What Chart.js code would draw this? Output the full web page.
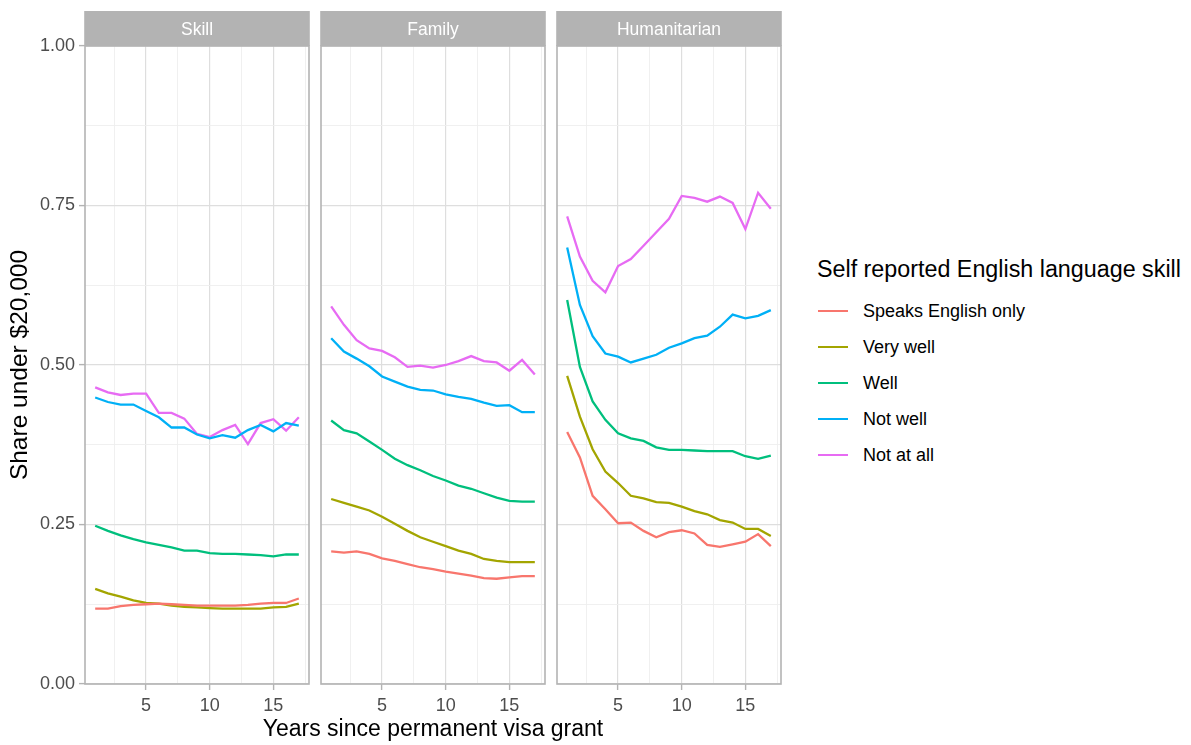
<!DOCTYPE html>
<html>
<head>
<meta charset="utf-8">
<script src="https://cdn.jsdelivr.net/npm/chart.js@4.4.0/dist/chart.umd.min.js"></script>
<style>
  html, body { margin: 0; padding: 0; background: #ffffff; }
  body { width: 1191px; height: 745px; position: relative; overflow: hidden;
         font-family: "Liberation Sans", Arial, sans-serif; }
  canvas { position: absolute; top: 0; }
  #legend { position: absolute; left: 817px; top: 0; width: 374px; height: 745px; }
  #legend .title { position: absolute; left: 0; top: 256px; font-size: 23.3px; color: #000; white-space: nowrap; }
  #legend .item { position: absolute; left: 1px; height: 20px; }
  #legend .swatch { position: absolute; left: 0; top: 9px; width: 30px; height: 2px; }
  #legend .label { position: absolute; left: 45px; top: 0; font-size: 18px; line-height: 20px; color: #000; white-space: nowrap; }
</style>
</head>
<body>
<canvas id="panel0" width="311" height="745"></canvas>
<canvas id="panel1" width="484" height="745"></canvas>
<canvas id="panel2" width="232" height="745"></canvas>
<div id="legend"></div>
<script>
// Years since the permanent visa was granted
const years = [1, 2, 3, 4, 5, 6, 7, 8, 9, 10, 11, 12, 13, 14, 15, 16, 17];

// Visa streams (one panel each)
const streams = ['Skill', 'Family', 'Humanitarian'];

// Self reported English language skill groups and their colours
const skillGroups = ['Speaks English only', 'Very well', 'Well', 'Not well', 'Not at all'];
const groupColours = ['#F8766D', '#A3A500', '#00BF7D', '#00B0F6', '#E76BF3'];

// Axis ticks and titles
const xTicks = [5, 10, 15];
const yTicks = [0, 0.25, 0.5, 0.75, 1];
const yTickLabels = ['0.00', '0.25', '0.50', '0.75', '1.00'];
const xTitle = 'Years since permanent visa grant';
const yTitle = 'Share under $20,000';

// Share of people with income under $20,000 — Skill stream
const skillEnglishOnly = [0.118, 0.118, 0.122, 0.124, 0.125, 0.126, 0.125, 0.124, 0.123, 0.123, 0.123, 0.123, 0.124, 0.126, 0.127, 0.127, 0.134];
const skillVeryWell    = [0.149, 0.142, 0.137, 0.131, 0.127, 0.126, 0.123, 0.121, 0.120, 0.119, 0.118, 0.118, 0.118, 0.118, 0.120, 0.121, 0.126];
const skillWell        = [0.248, 0.240, 0.233, 0.227, 0.222, 0.218, 0.214, 0.209, 0.209, 0.205, 0.204, 0.204, 0.203, 0.202, 0.200, 0.203, 0.203];
const skillNotWell     = [0.449, 0.442, 0.438, 0.438, 0.428, 0.418, 0.402, 0.402, 0.391, 0.385, 0.390, 0.386, 0.398, 0.406, 0.396, 0.409, 0.405];
const skillNotAtAll    = [0.465, 0.457, 0.453, 0.455, 0.455, 0.425, 0.425, 0.416, 0.392, 0.387, 0.398, 0.406, 0.376, 0.409, 0.415, 0.397, 0.418];

// Family stream
const familyEnglishOnly = [0.208, 0.206, 0.208, 0.204, 0.197, 0.193, 0.188, 0.183, 0.180, 0.176, 0.173, 0.170, 0.166, 0.165, 0.167, 0.169, 0.169];
const familyVeryWell    = [0.290, 0.284, 0.278, 0.272, 0.262, 0.251, 0.240, 0.230, 0.223, 0.216, 0.209, 0.204, 0.196, 0.193, 0.191, 0.191, 0.191];
const familyWell        = [0.413, 0.398, 0.393, 0.380, 0.367, 0.353, 0.343, 0.335, 0.326, 0.319, 0.311, 0.306, 0.299, 0.292, 0.287, 0.286, 0.286];
const familyNotWell     = [0.542, 0.521, 0.510, 0.498, 0.482, 0.474, 0.466, 0.461, 0.460, 0.454, 0.450, 0.447, 0.441, 0.436, 0.437, 0.426, 0.426];
const familyNotAtAll    = [0.592, 0.563, 0.539, 0.526, 0.522, 0.512, 0.497, 0.499, 0.496, 0.500, 0.506, 0.514, 0.506, 0.504, 0.491, 0.508, 0.485];

// Humanitarian stream
const humanEnglishOnly = [0.395, 0.355, 0.295, 0.274, 0.252, 0.253, 0.240, 0.230, 0.238, 0.241, 0.236, 0.218, 0.215, 0.219, 0.223, 0.235, 0.216];
const humanVeryWell    = [0.483, 0.419, 0.368, 0.333, 0.315, 0.295, 0.291, 0.285, 0.284, 0.278, 0.271, 0.266, 0.257, 0.253, 0.243, 0.243, 0.232];
const humanWell        = [0.602, 0.497, 0.443, 0.414, 0.393, 0.385, 0.381, 0.371, 0.367, 0.367, 0.366, 0.365, 0.365, 0.365, 0.357, 0.353, 0.358];
const humanNotWell     = [0.684, 0.594, 0.545, 0.518, 0.513, 0.504, 0.510, 0.516, 0.527, 0.534, 0.542, 0.546, 0.560, 0.579, 0.573, 0.577, 0.586];
const humanNotAtAll    = [0.733, 0.670, 0.632, 0.614, 0.655, 0.666, 0.687, 0.708, 0.729, 0.765, 0.762, 0.756, 0.764, 0.754, 0.713, 0.770, 0.745];

const seriesByStream = [
  [skillEnglishOnly, skillVeryWell, skillWell, skillNotWell, skillNotAtAll],
  [familyEnglishOnly, familyVeryWell, familyWell, familyNotWell, familyNotAtAll],
  [humanEnglishOnly, humanVeryWell, humanWell, humanNotWell, humanNotAtAll]
];

// ---- look and layout ----
const FONT = '"Liberation Sans", Arial, sans-serif';
const GRID_MAJOR = '#DEDEDE';
const GRID_MINOR = '#EEEEEE';
const FRAME = '#B3B3B3';
const TICK_TEXT = '#4D4D4D';
const X_MIN = 0.2, X_MAX = 17.8;
const PLOT_TOP = 46;
const X_AXIS_HEIGHT = 61;
const STRIP_HEIGHT = 35;

// canvas placement and the padding that puts each plot area in its slot
const placement = [
  { left: 0,   padLeft: 0,   padRight: 2,   yAxisWidth: 85 },
  { left: 191, padLeft: 130, padRight: 130, yAxisWidth: 0 },
  { left: 553, padLeft: 4,   padRight: 4,   yAxisWidth: 0 }
];

const isMajor = (v, list) => list.some(t => Math.abs(t - v) < 1e-9);
const minorBetween = list => list.slice(0, -1).map((v, i) => (v + list[i + 1]) / 2);

// x grid: majors plus midpoints, including the half-steps at both ends that fall in range
const xStep = xTicks[1] - xTicks[0];
const xGridValues = [xTicks[0] - xStep / 2, ...xTicks.flatMap(v => [v, v + xStep / 2])]
  .filter(v => v > X_MIN && v < X_MAX);
const yGridValues = [...yTicks, ...minorBetween(yTicks)].sort((a, b) => a - b);

// strip header above each panel, a frame round the plot area,
// and the shared x title under the middle panel
const panelDecor = {
  id: 'panelDecor',
  beforeDatasetsDraw(chart, args, opts) {
    const { ctx, chartArea: a } = chart;
    ctx.save();
    ctx.fillStyle = FRAME;
    ctx.fillRect(a.left - 0.8, a.top - STRIP_HEIGHT, a.right - a.left + 1.6, STRIP_HEIGHT);
    ctx.fillStyle = '#FFFFFF';
    ctx.font = '17.5px ' + FONT;
    ctx.textAlign = 'center';
    ctx.textBaseline = 'middle';
    ctx.fillText(opts.title, (a.left + a.right) / 2, a.top - STRIP_HEIGHT / 2 + 1.5);
    ctx.restore();
  },
  afterDatasetsDraw(chart) {
    const { ctx, chartArea: a } = chart;
    ctx.save();
    ctx.strokeStyle = FRAME;
    ctx.lineWidth = 1.6;
    ctx.strokeRect(a.left, a.top, a.right - a.left, a.bottom - a.top);
    ctx.restore();
  },
  afterDraw(chart, args, opts) {
    if (!opts.xTitle) return;
    const { ctx, chartArea: a } = chart;
    ctx.save();
    ctx.fillStyle = '#000000';
    ctx.font = '23px ' + FONT;
    ctx.textAlign = 'center';
    ctx.textBaseline = 'alphabetic';
    ctx.fillText(opts.xTitle, (a.left + a.right) / 2, a.bottom + 51.5);
    ctx.restore();
  }
};

streams.forEach((stream, p) => {
  const place = placement[p];
  const canvas = document.getElementById('panel' + p);
  canvas.style.left = place.left + 'px';

  const datasets = skillGroups.map((group, g) => ({
    label: group,
    data: years.map((yr, i) => ({ x: yr, y: seriesByStream[p][g][i] })),
    borderColor: groupColours[g],
    backgroundColor: groupColours[g],
    borderWidth: 2.3,
    pointRadius: 0,
    tension: 0,
    fill: false
  }));

  new Chart(canvas, {
    type: 'line',
    data: { datasets },
    plugins: [panelDecor],
    options: {
      responsive: false,
      animation: false,
      devicePixelRatio: 1,
      layout: { padding: { top: PLOT_TOP, bottom: 0, left: place.padLeft, right: place.padRight } },
      plugins: {
        legend: { display: false },
        tooltip: { enabled: false },
        panelDecor: { title: stream, xTitle: p === 1 ? xTitle : '' }
      },
      scales: {
        x: {
          type: 'linear',
          min: X_MIN,
          max: X_MAX,
          afterBuildTicks: s => { s.ticks = xGridValues.map(v => ({ value: v })); },
          afterFit: s => { s.height = X_AXIS_HEIGHT; },
          ticks: {
            autoSkip: false,
            maxRotation: 0,
            padding: 5,
            color: TICK_TEXT,
            font: { family: FONT, size: 18 },
            callback: v => isMajor(v, xTicks) ? String(v) : ''
          },
          grid: {
            drawTicks: true,
            tickLength: 6,
            color: c => (c.tick && isMajor(c.tick.value, xTicks)) ? GRID_MAJOR : GRID_MINOR,
            lineWidth: c => (c.tick && isMajor(c.tick.value, xTicks)) ? 1.2 : 0.9,
            tickColor: c => (c.tick && isMajor(c.tick.value, xTicks)) ? FRAME : 'rgba(0,0,0,0)',
            tickWidth: 1.4
          },
          border: { display: false },
          title: { display: false }
        },
        y: {
          type: 'linear',
          min: 0,
          max: 1,
          afterBuildTicks: s => { s.ticks = yGridValues.map(v => ({ value: v })); },
          afterFit: s => { s.width = place.yAxisWidth; },
          ticks: {
            display: p === 0,
            autoSkip: false,
            padding: 4,
            color: TICK_TEXT,
            font: { family: FONT, size: 18 },
            callback: v => {
              const k = yTicks.findIndex(t => Math.abs(t - v) < 1e-9);
              return k >= 0 ? yTickLabels[k] : '';
            }
          },
          grid: {
            drawTicks: p === 0,
            tickLength: 6,
            color: c => (c.tick && isMajor(c.tick.value, yTicks)) ? GRID_MAJOR : GRID_MINOR,
            lineWidth: c => (c.tick && isMajor(c.tick.value, yTicks)) ? 1.2 : 0.9,
            tickColor: c => (c.tick && isMajor(c.tick.value, yTicks)) ? FRAME : 'rgba(0,0,0,0)',
            tickWidth: 1.4
          },
          border: { display: false },
          title: {
            display: p === 0,
            text: yTitle,
            color: '#000000',
            font: { family: FONT, size: 24.5 },
            padding: { top: 6, bottom: 0 }
          }
        }
      }
    }
  });
});

// legend built from the same group names and colours
const legend = document.getElementById('legend');
const lt = document.createElement('div');
lt.className = 'title';
lt.textContent = 'Self reported English language skill';
legend.appendChild(lt);
skillGroups.forEach((group, g) => {
  const item = document.createElement('div');
  item.className = 'item';
  item.style.top = (301 + g * 36) + 'px';
  const sw = document.createElement('div');
  sw.className = 'swatch';
  sw.style.background = groupColours[g];
  const lab = document.createElement('div');
  lab.className = 'label';
  lab.textContent = group;
  item.appendChild(sw);
  item.appendChild(lab);
  legend.appendChild(item);
});
</script>
</body>
</html>
